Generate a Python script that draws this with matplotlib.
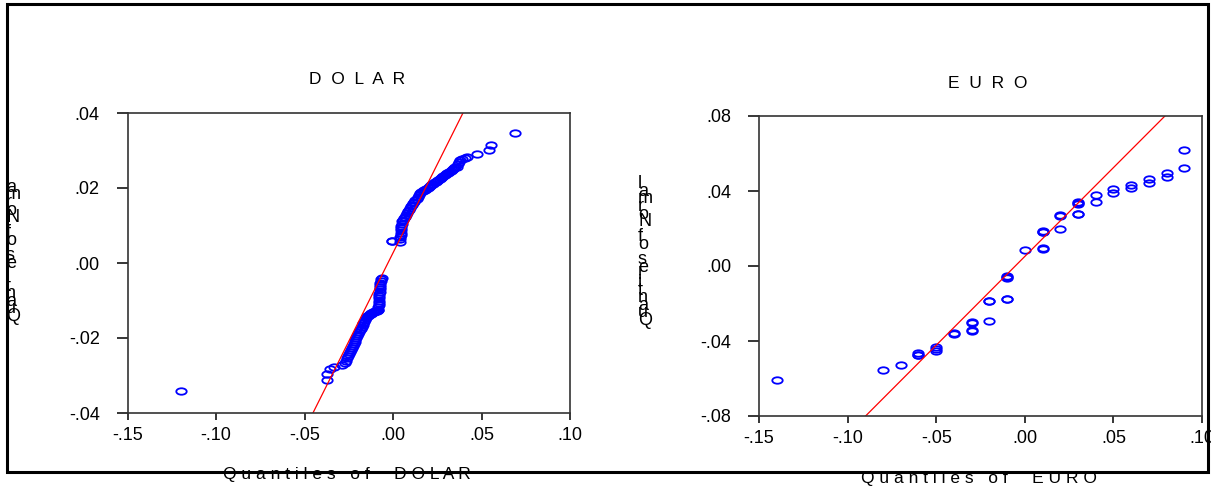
import numpy as np
import matplotlib
matplotlib.use('Agg')
import matplotlib.pyplot as plt
from matplotlib.path import Path
from matplotlib.patches import Rectangle

# DOLAR: quantiles of DOLAR (x) vs quantiles of Normal (y)
dolar_q = [
    -0.1198, -0.0375, -0.0373, -0.0356, -0.0333, -0.0290,
    -0.0271, -0.0265, -0.0259, -0.0253, -0.0247, -0.0242, -0.0237, -0.0232,
    -0.0227, -0.0222, -0.0217, -0.0212, -0.0207, -0.0202, -0.0197, -0.0192,
    -0.0187, -0.0182, -0.0177, -0.0172, -0.0167, -0.0162, -0.0157, -0.0152,
    -0.0147, -0.0142, -0.0137, -0.0132, -0.0127, -0.0122, -0.0117, -0.0112,
    -0.0107, -0.0102, -0.0097, -0.0092, -0.0087, -0.0083,
    -0.0082, -0.0081, -0.0080, -0.0079, -0.0078, -0.0078, -0.0077, -0.0076,
    -0.0075, -0.0074, -0.0073, -0.0072, -0.0070, -0.0067, -0.0064,
    -0.0007, -0.0005,
    0.0040, 0.0041, 0.0042, 0.0043, 0.0044, 0.0045, 0.0046, 0.0048, 0.0050,
    0.0053, 0.0057, 0.0062, 0.0068,
    0.0074, 0.0080, 0.0086, 0.0092, 0.0098, 0.0104, 0.0110, 0.0115,
    0.0121, 0.0127, 0.0133, 0.0139, 0.0146, 0.0153,
    0.0160, 0.0167, 0.0174, 0.0181, 0.0188, 0.0195, 0.0202, 0.0209, 0.0216,
    0.0222, 0.0228,
    0.0235, 0.0242, 0.0249, 0.0256, 0.0263, 0.0270, 0.0277, 0.0284, 0.0291,
    0.0298, 0.0304,
    0.0311, 0.0318, 0.0325, 0.0332, 0.0339, 0.0346, 0.0353, 0.0360,
    0.0366, 0.0372, 0.0379,
    0.0392, 0.0405, 0.0416,
    0.0473, 0.0544, 0.0552, 0.0689,
]
dolar_norm = [
    -0.0341, -0.0312, -0.0296, -0.0282, -0.0277, -0.0272,
    -0.0267, -0.0260, -0.0254, -0.0248, -0.0242, -0.0236, -0.0231, -0.0226,
    -0.0221, -0.0216, -0.0211, -0.0206, -0.0200, -0.0194, -0.0189, -0.0184,
    -0.0179, -0.0175, -0.0171, -0.0166, -0.0161, -0.0156, -0.0151, -0.0146,
    -0.0142, -0.0140, -0.0138, -0.0136, -0.0135, -0.0133, -0.0132, -0.0131,
    -0.0130, -0.0129, -0.0128, -0.0127, -0.0126, -0.0124,
    -0.0118, -0.0112, -0.0106, -0.0100, -0.0094, -0.0088, -0.0082, -0.0076,
    -0.0070, -0.0064, -0.0058, -0.0052, -0.0047, -0.0043, -0.0041,
    0.0059, 0.0059,
    0.0057, 0.0063, 0.0069, 0.0075, 0.0081, 0.0087, 0.0093, 0.0099, 0.0105,
    0.0111, 0.0116, 0.0120, 0.0123,
    0.0128, 0.0133, 0.0138, 0.0142, 0.0146, 0.0151, 0.0155, 0.0159,
    0.0163, 0.0168, 0.0172, 0.0176, 0.0181, 0.0186,
    0.0189, 0.0191, 0.0194, 0.0196, 0.0198, 0.0201, 0.0203, 0.0205, 0.0208,
    0.0210, 0.0212,
    0.0215, 0.0217, 0.0220, 0.0222, 0.0225, 0.0227, 0.0230, 0.0232, 0.0234,
    0.0237, 0.0239,
    0.0241, 0.0244, 0.0246, 0.0248, 0.0250, 0.0253, 0.0255, 0.0257,
    0.0263, 0.0269, 0.0275,
    0.0277, 0.0280, 0.0283,
    0.0291, 0.0301, 0.0315, 0.0346,
]
dolar_line = (0.0027, 0.944)   # intercept, slope of reference line

# EURO
euro_q = [
    -0.14, -0.08, -0.07,
    -0.06, -0.06, -0.06,
    -0.05, -0.05, -0.05,
    -0.04, -0.04,
    -0.03, -0.03, -0.03, -0.03,
    -0.02, -0.02, -0.02,
    -0.01, -0.01, -0.01, -0.01, -0.01,
    0.00,
    0.01, 0.01, 0.01, 0.01, 0.01,
    0.02, 0.02, 0.02,
    0.03, 0.03, 0.03, 0.03, 0.03,
    0.04, 0.04, 0.05, 0.05, 0.06, 0.06, 0.07, 0.07, 0.08, 0.08, 0.09, 0.09,
]
euro_norm = [
    -0.0610, -0.0556, -0.0530,
    -0.0466, -0.0472, -0.0477,
    -0.0434, -0.0443, -0.0452,
    -0.0358, -0.0364,
    -0.0298, -0.0302, -0.0343, -0.0347,
    -0.0295, -0.0185, -0.0189,
    -0.0174, -0.0178, -0.0052, -0.0057, -0.0062,
    0.0085,
    0.0092, 0.0096, 0.0180, 0.0184, 0.0188,
    0.0196, 0.0268, 0.0272,
    0.0277, 0.0279, 0.0330, 0.0335, 0.0339,
    0.0343, 0.0379, 0.0388, 0.0412, 0.0418, 0.0432, 0.0444, 0.0464,
    0.0476, 0.0498, 0.0523, 0.0620,
]
euro_line = (0.0051, 0.947)

dolar_yticks = [-0.04, -0.02, 0.00, 0.02, 0.04]
euro_yticks = [-0.08, -0.04, 0.00, 0.04, 0.08]
xticks = [-0.15, -0.10, -0.05, 0.00, 0.05, 0.10]

plt.rcParams['font.family'] = ['Liberation Sans', 'DejaVu Sans']

W, H = 1211, 491


def px(x, y):
    return x / W, 1 - y / H


def fmt(v):
    s = f"{v:.2f}"
    return s.replace("0.", ".", 1)


# ellipse marker, wider than tall
circ = Path.unit_circle()
ellipse = Path(circ.vertices * np.array([1.0, 0.62]), circ.codes)

fig = plt.figure(figsize=(W / 100, H / 100), dpi=100)
fig.patches.append(Rectangle(px(6.5, 471.5), 1201 / W, 468 / H,
                             transform=fig.transFigure, fill=False,
                             lw=2.2, ec='black', zorder=0))


def qq_panel(rect, xq, yn, line, yticks, title, title_xy, xlabel, xlabel_xy, ylab_x, ylab_y0):
    ax = fig.add_axes(rect)
    ax.plot(xq, yn, linestyle='none', marker=ellipse, markersize=7.5,
            mfc='none', mec='#0000ff', mew=1.3)
    xs = np.array([-0.15, 0.10])
    ax.plot(xs, line[0] + line[1] * xs, color='red', lw=0.9)
    ax.set_xlim(-0.15, 0.10)
    ax.set_ylim(yticks[0], yticks[-1])
    ax.set_xticks(xticks)
    ax.set_xticklabels([fmt(v) for v in xticks])
    ax.set_yticks(yticks)
    ax.set_yticklabels([fmt(v) for v in yticks])
    ax.tick_params(axis='y', length=8, width=1.1, pad=12, labelsize=13)
    ax.tick_params(axis='x', length=5, width=1.1, pad=5, labelsize=13)
    for sp in ax.spines.values():
        sp.set_linewidth(1.2)
        sp.set_color('#333333')
    fig.text(*px(*title_xy), title, ha='center', va='center', fontsize=12.5)
    fig.text(*px(*xlabel_xy), xlabel, ha='center', va='center', fontsize=12.5)
    # stacked, overlapping letters for the y label
    label = "Quantiles of Normal"
    step = 7.6
    for i, ch in enumerate(label):
        fig.text(*px(ylab_x, ylab_y0 - i * step), ch, ha='left',
                 va='baseline', fontsize=13)
    return ax


qq_panel([127.5 / W, 1 - 413 / H, 442.5 / W, 300 / H],
         dolar_q, dolar_norm, dolar_line, dolar_yticks,
         "D  O  L  A  R", (357, 80),
         "Q u a n t i l e s   o f     D O L A R", (347, 475), 6, 321)
qq_panel([759 / W, 1 - 416 / H, 443 / W, 300 / H],
         euro_q, euro_norm, euro_line, euro_yticks,
         "E  U  R  O", (988, 83),
         "Q u a n t i l e s   o f     E U R O", (979, 478), 638, 325)

fig.savefig('out.png', dpi=100)
